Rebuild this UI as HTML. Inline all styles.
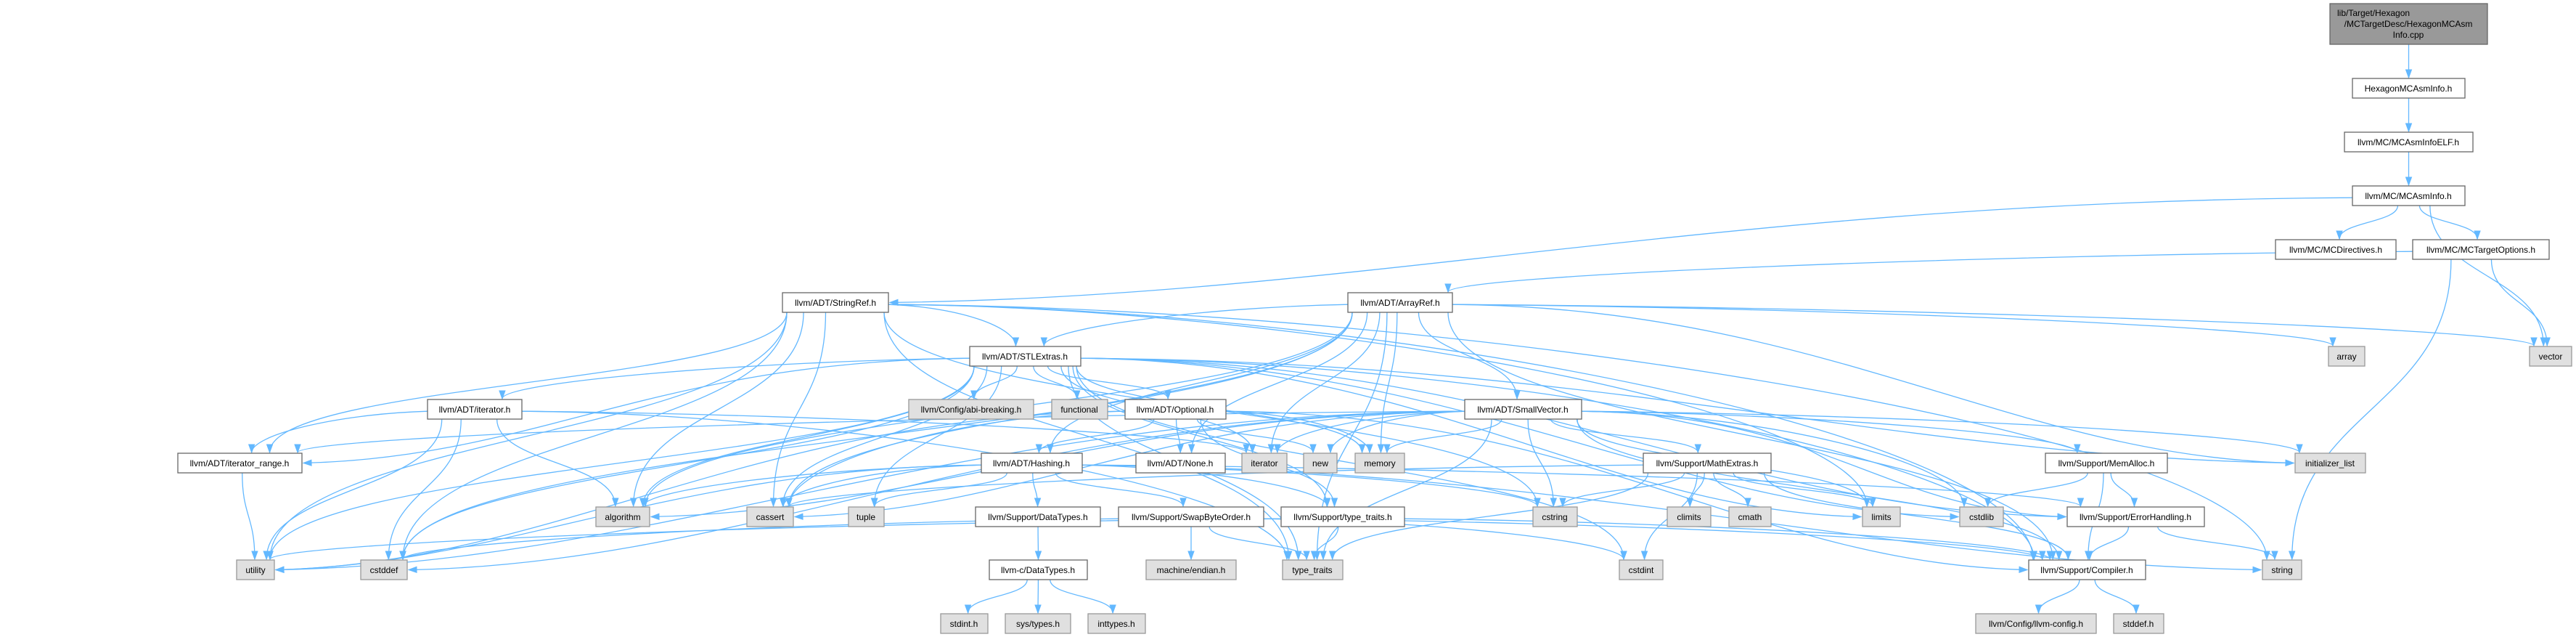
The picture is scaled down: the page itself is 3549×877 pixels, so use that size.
<!DOCTYPE html>
<html><head><meta charset="utf-8">
<style>
html,body{margin:0;padding:0;background:#fff;}
svg{display:block;}
text{font-family:"Liberation Sans",Arial,sans-serif;font-size:12px;fill:#000;}
.w rect{fill:#fff;stroke:#666;stroke-width:1.3;}
.g rect{fill:#e0e0e0;stroke:#999;stroke-width:1.3;}
.d rect{fill:#999;stroke:#666;stroke-width:1.3;}
</style></head><body>
<svg id="s" width="3549" height="877" viewBox="0 0 3549 877" xmlns="http://www.w3.org/2000/svg">
<g id="edges" fill="none" stroke="#63b8ff" stroke-width="1.3"></g>
<g id="arrows" fill="#63b8ff" stroke="#63b8ff"></g>
<g id="nodes">
<g class="d" id="root"><rect x="3210" y="5" width="217" height="56"/><text x="3220" y="22">lib/Target/Hexagon</text><text x="3318" y="37" text-anchor="middle">/MCTargetDesc/HexagonMCAsm</text><text x="3318" y="52" text-anchor="middle">Info.cpp</text></g>
<g class="w" id="hex"><rect x="3241" y="108" width="155" height="27"/><text x="3318" y="126" text-anchor="middle">HexagonMCAsmInfo.h</text></g>
<g class="w" id="elf"><rect x="3230" y="182" width="177" height="27"/><text x="3318" y="200" text-anchor="middle">llvm/MC/MCAsmInfoELF.h</text></g>
<g class="w" id="mai"><rect x="3241" y="256" width="155" height="27"/><text x="3318" y="274" text-anchor="middle">llvm/MC/MCAsmInfo.h</text></g>
<g class="w" id="dir"><rect x="3135" y="330" width="166" height="27"/><text x="3218" y="348" text-anchor="middle">llvm/MC/MCDirectives.h</text></g>
<g class="w" id="mto"><rect x="3324" y="330" width="188" height="27"/><text x="3418" y="348" text-anchor="middle">llvm/MC/MCTargetOptions.h</text></g>
<g class="w" id="sref"><rect x="1078" y="403" width="146" height="27"/><text x="1151" y="421" text-anchor="middle">llvm/ADT/StringRef.h</text></g>
<g class="w" id="aref"><rect x="1857" y="403" width="144" height="27"/><text x="1929" y="421" text-anchor="middle">llvm/ADT/ArrayRef.h</text></g>
<g class="w" id="stl"><rect x="1336" y="477" width="153" height="27"/><text x="1412" y="495" text-anchor="middle">llvm/ADT/STLExtras.h</text></g>
<g class="g" id="array"><rect x="3208" y="477" width="50" height="27"/><text x="3233" y="495" text-anchor="middle">array</text></g>
<g class="g" id="vector"><rect x="3485" y="477" width="58" height="27"/><text x="3514" y="495" text-anchor="middle">vector</text></g>
<g class="g" id="abi"><rect x="1252" y="550" width="172" height="27"/><text x="1338" y="568" text-anchor="middle">llvm/Config/abi-breaking.h</text></g>
<g class="g" id="func"><rect x="1449" y="550" width="77" height="27"/><text x="1487" y="568" text-anchor="middle">functional</text></g>
<g class="w" id="opt"><rect x="1550" y="550" width="139" height="27"/><text x="1619" y="568" text-anchor="middle">llvm/ADT/Optional.h</text></g>
<g class="w" id="sv"><rect x="2018" y="550" width="161" height="27"/><text x="2098" y="568" text-anchor="middle">llvm/ADT/SmallVector.h</text></g>
<g class="w" id="ith"><rect x="589" y="550" width="130" height="27"/><text x="654" y="568" text-anchor="middle">llvm/ADT/iterator.h</text></g>
<g class="w" id="itr"><rect x="245" y="624" width="171" height="27"/><text x="330" y="642" text-anchor="middle">llvm/ADT/iterator_range.h</text></g>
<g class="w" id="hash"><rect x="1352" y="624" width="139" height="27"/><text x="1421" y="642" text-anchor="middle">llvm/ADT/Hashing.h</text></g>
<g class="w" id="none"><rect x="1565" y="624" width="123" height="27"/><text x="1626" y="642" text-anchor="middle">llvm/ADT/None.h</text></g>
<g class="g" id="iter"><rect x="1711" y="624" width="62" height="27"/><text x="1742" y="642" text-anchor="middle">iterator</text></g>
<g class="g" id="new"><rect x="1796" y="624" width="46" height="27"/><text x="1819" y="642" text-anchor="middle">new</text></g>
<g class="g" id="mem"><rect x="1867" y="624" width="68" height="27"/><text x="1901" y="642" text-anchor="middle">memory</text></g>
<g class="w" id="math"><rect x="2264" y="624" width="176" height="27"/><text x="2352" y="642" text-anchor="middle">llvm/Support/MathExtras.h</text></g>
<g class="w" id="malloc"><rect x="2818" y="624" width="168" height="27"/><text x="2902" y="642" text-anchor="middle">llvm/Support/MemAlloc.h</text></g>
<g class="g" id="il"><rect x="3162" y="624" width="97" height="27"/><text x="3210" y="642" text-anchor="middle">initializer_list</text></g>
<g class="g" id="alg"><rect x="821" y="698" width="74" height="27"/><text x="858" y="716" text-anchor="middle">algorithm</text></g>
<g class="g" id="cassert"><rect x="1029" y="698" width="64" height="27"/><text x="1061" y="716" text-anchor="middle">cassert</text></g>
<g class="g" id="tuple"><rect x="1169" y="698" width="49" height="27"/><text x="1193" y="716" text-anchor="middle">tuple</text></g>
<g class="w" id="dt"><rect x="1344" y="698" width="172" height="27"/><text x="1430" y="716" text-anchor="middle">llvm/Support/DataTypes.h</text></g>
<g class="w" id="swap"><rect x="1541" y="698" width="200" height="27"/><text x="1641" y="716" text-anchor="middle">llvm/Support/SwapByteOrder.h</text></g>
<g class="w" id="stt"><rect x="1765" y="698" width="170" height="27"/><text x="1850" y="716" text-anchor="middle">llvm/Support/type_traits.h</text></g>
<g class="g" id="cstring"><rect x="2112" y="698" width="61" height="27"/><text x="2142" y="716" text-anchor="middle">cstring</text></g>
<g class="g" id="climits"><rect x="2297" y="698" width="60" height="27"/><text x="2327" y="716" text-anchor="middle">climits</text></g>
<g class="g" id="cmath"><rect x="2382" y="698" width="58" height="27"/><text x="2411" y="716" text-anchor="middle">cmath</text></g>
<g class="g" id="limits"><rect x="2566" y="698" width="52" height="27"/><text x="2592" y="716" text-anchor="middle">limits</text></g>
<g class="g" id="cstdlib"><rect x="2700" y="698" width="60" height="27"/><text x="2730" y="716" text-anchor="middle">cstdlib</text></g>
<g class="w" id="eh"><rect x="2848" y="698" width="189" height="27"/><text x="2942" y="716" text-anchor="middle">llvm/Support/ErrorHandling.h</text></g>
<g class="g" id="utility"><rect x="326" y="771" width="52" height="27"/><text x="352" y="789" text-anchor="middle">utility</text></g>
<g class="g" id="cstddef"><rect x="497" y="771" width="64" height="27"/><text x="529" y="789" text-anchor="middle">cstddef</text></g>
<g class="w" id="cdt"><rect x="1363" y="771" width="135" height="27"/><text x="1430" y="789" text-anchor="middle">llvm-c/DataTypes.h</text></g>
<g class="g" id="endian"><rect x="1579" y="771" width="124" height="27"/><text x="1641" y="789" text-anchor="middle">machine/endian.h</text></g>
<g class="g" id="tt"><rect x="1767" y="771" width="83" height="27"/><text x="1808" y="789" text-anchor="middle">type_traits</text></g>
<g class="g" id="cstdint"><rect x="2231" y="771" width="60" height="27"/><text x="2261" y="789" text-anchor="middle">cstdint</text></g>
<g class="w" id="comp"><rect x="2795" y="771" width="161" height="27"/><text x="2875" y="789" text-anchor="middle">llvm/Support/Compiler.h</text></g>
<g class="g" id="string"><rect x="3117" y="771" width="54" height="27"/><text x="3144" y="789" text-anchor="middle">string</text></g>
<g class="g" id="stdinth"><rect x="1296" y="845" width="65" height="27"/><text x="1328" y="863" text-anchor="middle">stdint.h</text></g>
<g class="g" id="systypes"><rect x="1385" y="845" width="90" height="27"/><text x="1430" y="863" text-anchor="middle">sys/types.h</text></g>
<g class="g" id="inttypes"><rect x="1499" y="845" width="79" height="27"/><text x="1538" y="863" text-anchor="middle">inttypes.h</text></g>
<g class="g" id="llvmcfg"><rect x="2722" y="845" width="166" height="27"/><text x="2805" y="863" text-anchor="middle">llvm/Config/llvm-config.h</text></g>
<g class="g" id="stddefh"><rect x="2912" y="845" width="69" height="27"/><text x="2946" y="863" text-anchor="middle">stddef.h</text></g>
</g>
</svg>
<script>
(function(){
var E={
root:["hex"],hex:["elf"],elf:["mai"],mai:["sref","dir","mto","vector"],
mto:["aref","string","vector"],
sref:["stl","itr","comp","alg","cassert","cstddef","cstring","limits","string","tt","utility"],
aref:["hash","none","stl","sv","comp","alg","array","cassert","cstddef","il","iter","mem","tt","vector"],
stl:["opt","abi","func","ith","itr","comp","eh","alg","cassert","cstddef","cstdint","cstdlib","il","iter","limits","mem","tuple","tt","utility","stt"],
opt:["hash","none","comp","stt","cassert","mem","new","utility"],
sv:["itr","comp","eh","math","malloc","tt","alg","cassert","cstddef","cstdlib","cstring","il","iter","limits","mem","new","utility"],
ith:["itr","alg","cstddef","iter","tt","utility"],
itr:["utility"],
hash:["dt","eh","swap","stt","alg","cassert","cstring","string","tuple","utility"],
math:["comp","cassert","climits","cmath","cstdint","cstring","limits","tt"],
malloc:["comp","eh","cstdlib"],
dt:["cdt"],cdt:["stdinth","systypes","inttypes"],
swap:["comp","cstddef","cstdint","tt","endian"],
stt:["comp","tt","utility"],
eh:["comp","string"],comp:["llvmcfg","stddefh"]};
function box(id){var r=document.querySelector("#"+id+" rect");return{x:+r.getAttribute("x"),y:+r.getAttribute("y"),w:+r.getAttribute("width"),h:+r.getAttribute("height")};}
var eg=document.getElementById("edges"),ag=document.getElementById("arrows"),ns="http://www.w3.org/2000/svg";
for(var s in E){var a=box(s);E[s].forEach(function(t){var b=box(t);
var acx=a.x+a.w/2,bcx=b.x+b.w/2,dx=bcx-acx;
var x0,y0,c1x,c1y;var dy=b.y-(a.y+a.h);
if(Math.abs(dx)>4*dy+a.w/2){x0=dx>0?a.x+a.w:a.x;y0=a.y+a.h*0.6;c1x=x0+dx*0.4;c1y=y0+4;}
else{x0=acx+Math.max(-a.w/2+6,Math.min(a.w/2-6,dx*0.15));y0=a.y+a.h;c1x=x0;c1y=y0+dy*0.5;}
var x1,y1,c2x,c2y;
if(Math.abs(dx)>6*dy&&dy>60){x1=dx>0?b.x-2:b.x+b.w+2;y1=b.y+b.h/2;c2x=x1-(dx>0?1:-1)*Math.abs(dx)*0.3;c2y=y1-8;}
else{x1=bcx-Math.max(-b.w/2+6,Math.min(b.w/2-6,dx*0.05));y1=b.y-1;c2x=x1;c2y=y1-dy*0.5;}
var p=document.createElementNS(ns,"path");
p.setAttribute("d","M"+x0+","+y0+" C"+c1x+","+c1y+" "+c2x+","+c2y+" "+x1+","+y1);eg.appendChild(p);
var ux=x1-c2x,uy=y1-c2y,L=Math.sqrt(ux*ux+uy*uy)||1;ux/=L;uy/=L;
var bx=x1-ux*11,by=y1-uy*11,px=-uy*4,py=ux*4;
var tri=document.createElementNS(ns,"polygon");
tri.setAttribute("points",x1+","+y1+" "+(bx+px)+","+(by+py)+" "+(bx-px)+","+(by-py));ag.appendChild(tri);
});}
})();
</script>
</body></html>
